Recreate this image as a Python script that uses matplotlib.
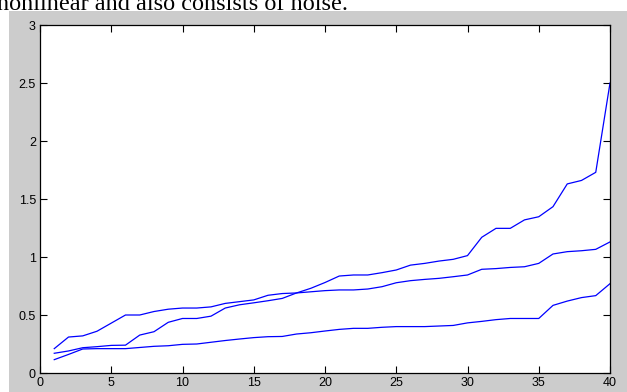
import numpy as np
import matplotlib
matplotlib.use('Agg')
import matplotlib.pyplot as plt
from matplotlib.patches import Rectangle

# Sample index shared by all three curves
x = np.arange(1, 41)

# Curve that starts highest and ends in the middle
curve_a = [0.21, 0.31, 0.32, 0.36, 0.43, 0.50, 0.50, 0.53, 0.55, 0.56,
           0.56, 0.57, 0.60, 0.615, 0.63, 0.67, 0.685, 0.69, 0.70, 0.71,
           0.716, 0.716, 0.724, 0.744, 0.778, 0.796, 0.807, 0.816, 0.83, 0.845,
           0.894, 0.90, 0.91, 0.916, 0.945, 1.026, 1.046, 1.054, 1.066, 1.13]

# Curve that crosses over and shoots up at the end
curve_b = [0.17, 0.19, 0.218, 0.227, 0.238, 0.24, 0.327, 0.356, 0.437, 0.47,
           0.47, 0.49, 0.56, 0.588, 0.605, 0.623, 0.643, 0.69, 0.73, 0.78,
           0.836, 0.845, 0.845, 0.865, 0.888, 0.93, 0.945, 0.965, 0.98, 1.012,
           1.17, 1.247, 1.247, 1.32, 1.347, 1.434, 1.63, 1.66, 1.73, 2.5]

# Lowest curve
curve_c = [0.115, 0.16, 0.207, 0.21, 0.21, 0.21, 0.22, 0.23, 0.235, 0.247,
           0.25, 0.265, 0.28, 0.293, 0.305, 0.313, 0.315, 0.336, 0.347, 0.362,
           0.376, 0.385, 0.385, 0.394, 0.40, 0.40, 0.40, 0.405, 0.41, 0.432,
           0.445, 0.46, 0.47, 0.47, 0.47, 0.583, 0.62, 0.65, 0.667, 0.77]

xticks = [0, 5, 10, 15, 20, 25, 30, 35, 40]
yticks = [0, 0.5, 1, 1.5, 2, 2.5, 3]
ytick_labels = ['0', '0.5', '1', '1.5', '2', '2.5', '3']

W, H = 627, 392
fig = plt.figure(figsize=(W / 100, H / 100), dpi=100, facecolor='white')

# grey figure window under the text line, kept behind the axes
fig.patches.append(Rectangle((9 / W, 0), 1 - 9 / W, 1 - 11 / H,
                             transform=fig.transFigure, facecolor='#cccccc',
                             edgecolor='none', zorder=-10))

fig.text(-3 / W, 1 - 10 / H, 'nonlinear and also consists of noise.',
         family='Liberation Serif', fontsize=17.5, va='baseline', ha='left')

ax = fig.add_axes([40 / W, 19 / H, 570 / W, 348 / H])
ax.set_facecolor('white')
for y in (curve_a, curve_b, curve_c):
    ax.plot(x, y, color='#0000ff', lw=0.9)

ax.set_xlim(0, 40)
ax.set_ylim(0, 3)
ax.set_xticks(xticks)
ax.set_yticks(yticks)
ax.set_yticklabels(ytick_labels)
ax.tick_params(direction='in', length=5, width=0.8, top=True, right=True,
               labelsize=9, pad=3, colors='black')
for lab in ax.get_xticklabels() + ax.get_yticklabels():
    lab.set_family('Liberation Sans')
for s in ax.spines.values():
    s.set_linewidth(0.9)
    s.set_color('black')

fig.savefig('out.png', dpi=100, facecolor=fig.get_facecolor())
